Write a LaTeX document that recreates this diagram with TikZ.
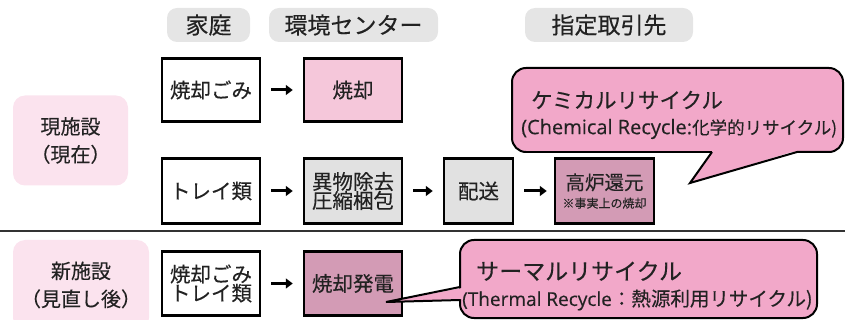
\documentclass[tikz,border=0pt]{standalone}
\usepackage{fontspec}
\setmainfont{Noto Sans CJK JP}[FakeBold=0.3]
\newfontfamily\latinfont{Open Sans}[FakeBold=0.3]
\usetikzlibrary{arrows.meta}
\definecolor{boxpink}{HTML}{F5C7DA}
\definecolor{boxdark}{HTML}{D39BB5}
\definecolor{boxgray}{HTML}{E1E1E1}
\definecolor{callpink}{HTML}{F2A8C9}
\definecolor{labelbg}{HTML}{FBE3EE}
\definecolor{pillgray}{HTML}{E5E5E5}
\definecolor{txt}{HTML}{222222}
\tikzset{
  pill/.style={fill=pillgray, rounded corners=10pt, minimum height=34pt, inner sep=0pt, font=\fontsize{23}{24}\selectfont, text=txt},
  flowbox/.style={draw=black, line width=2.5pt, minimum width=98pt, minimum height=63pt, inner sep=0pt, align=center, font=\fontsize{20.5}{22}\selectfont, text=txt},
  sidelabel/.style={fill=labelbg, rounded corners=12pt, inner sep=0pt, align=center, font=\fontsize{20}{28}\selectfont, text=txt},
  flowarrow/.style={line width=3pt, -{Triangle[length=7pt,width=10pt]}, shorten <=10pt, shorten >=10pt},
  callout/.style={draw=black, line width=2pt, fill=callpink, rounded corners=14pt},
}
\begin{document}
\begin{tikzpicture}[x=1pt,y=-1pt]
\useasboundingbox (0,0) rectangle (845,320);
% header pills
\node[pill, minimum width=83pt] (hHome) at (208.5,25) {家庭};
\node[pill, minimum width=169pt] (hCenter) at (353.5,25) {環境センター};
\node[pill, minimum width=168pt] (hPartner) at (609,25) {指定取引先};
% side labels
\node[sidelabel, minimum width=115pt, minimum height=90pt] (lNow) at (70.5,140.5) {現施設\\（現在）};
\node[sidelabel, minimum width=136pt, minimum height=90pt] (lNew) at (81,285) {新施設\\（見直し後）};
% separator
\coordinate (sepL) at (0,231);
\coordinate (sepR) at (845,231);
\draw[line width=2pt, color=black!80] (sepL) -- (sepR);
% row 1
\node[flowbox, fill=white] (r1a) at (211,90) {焼却ごみ};
\node[flowbox, fill=boxpink] (r1b) at (353,90) {焼却};
\draw[flowarrow] (r1a) -- (r1b);
% row 2
\node[flowbox, fill=white, minimum height=65pt] (r2a) at (211,191) {トレイ類};
\node[flowbox, fill=boxgray, minimum height=65pt] (r2b) at (353,191) {異物除去\\[-3pt]圧縮梱包};
\node[flowbox, fill=boxgray, minimum height=65pt, minimum width=69pt] (r2c) at (478.5,191) {配送};
\node[flowbox, fill=boxdark, minimum height=65pt, minimum width=99pt] (r2d) at (604.5,191) {{\fontsize{19.5}{22}\selectfont 高炉還元}\\[-4pt]{\fontsize{12}{14}\selectfont ※事実上の焼却}};
\draw[flowarrow] (r2a) -- (r2b);
\draw[flowarrow] (r2b) -- (r2c);
\draw[flowarrow, shorten >=7pt] (r2c) -- (r2d);
% row 3
\node[flowbox, fill=white, minimum height=64pt] (r3a) at (211,283.5) {焼却ごみ\\[-3pt]トレイ類};
\node[flowbox, fill=boxdark, minimum height=64pt] (r3b) at (353,283.5) {焼却発電};
\draw[flowarrow] (r3a) -- (r3b);
% callout 1 : chemical recycle
\coordinate (c1tip) at (690,183);
\fill[callpink] (713,150) -- (c1tip) -- (796,150) -- cycle;
\path[callout, draw=none] (512,68) rectangle (843,152);
\node[anchor=west, inner sep=0pt, font=\fontsize{21.5}{24}\selectfont, text=txt] (c1title) at (531,100) {ケミカルリサイクル};
\node[anchor=west, inner sep=0pt, text=txt] (c1sub) at (521,129) {{\latinfont\fontsize{20}{22}\selectfont (Chemical Recycle:}{\fontsize{17.5}{18}\selectfont 化学的リサイクル)}};
\draw[line width=2pt, rounded corners=14pt] (526,152) -- (512,152) -- (512,68) -- (843,68) -- (843,152) -- (797,152);
\draw[line width=2pt, rounded corners=0pt] (526,152) -- (712,152);
\fill[callpink] (714,151) -- (c1tip) -- (795,151) -- cycle;
\draw[line width=2pt, line join=miter] (712,152) -- (c1tip) -- (797,152);
% callout 2 : thermal recycle
\coordinate (c2tip) at (386,302);
\path[callout, draw=none] (460,240) rectangle (817,318);
\draw[callout, fill=none] (460,240) rectangle (817,318);
\fill[callpink] (462,288) -- (c2tip) -- (462,299) -- cycle;
\draw[line width=2pt, line join=miter] (460,287) -- (c2tip) -- (460,300);
\node[anchor=west, inner sep=0pt, font=\fontsize{23}{24}\selectfont, text=txt] (c2title) at (476,271) {サーマルリサイクル};
\node[anchor=west, inner sep=0pt, text=txt] (c2sub) at (462,300) {{\latinfont\fontsize{19}{20}\selectfont (Thermal Recycle}{\fontsize{19.5}{20}\selectfont ：熱源利用リサイクル)}};
\end{tikzpicture}
\end{document}
